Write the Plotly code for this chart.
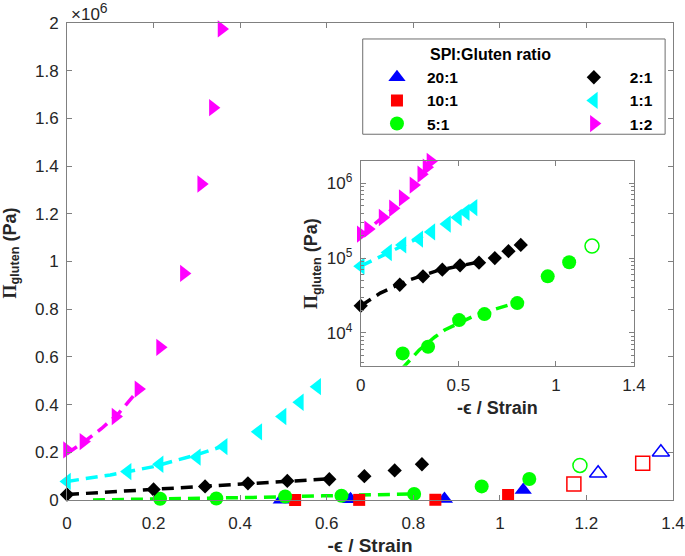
import plotly.graph_objects as go

# ---------------- data (Pa vs strain) ----------------
x_20_1 = [0.495, 0.655, 0.872, 1.054]
y_20_1 = [1500, 3000, 4000, 42000]
x_20_1_open = [1.227, 1.372]
y_20_1_open = [112000, 200000]

x_10_1 = [0.527, 0.675, 0.851, 1.019]
y_10_1 = [0, 500, 1000, 21000]
x_10_1_open = [1.171, 1.33]
y_10_1_open = [67000, 154000]

x_5_1 = [0.215, 0.345, 0.504, 0.634, 0.802, 0.958, 1.068]
y_5_1 = [5300, 6500, 14800, 17800, 25000, 57000, 88000]
x_5_1_open = [1.185]
y_5_1_open = [145000]

x_2_1 = [0, 0.2, 0.319, 0.418, 0.509, 0.606, 0.687, 0.757, 0.82]
y_2_1 = [23000, 44000, 57000, 70000, 80000, 87000, 100000, 124000, 150000]

x_1_1 = [0, 0.14, 0.214, 0.3, 0.362, 0.442, 0.498, 0.538, 0.578]
y_1_1 = [78000, 119000, 150000, 180000, 224000, 286000, 350000, 410000, 475000]

x_1_2 = [0, 0.038, 0.112, 0.165, 0.215, 0.27, 0.31, 0.337, 0.357]
y_1_2 = [210000, 245000, 350000, 465000, 640000, 950000, 1325000, 1645000, 1975000]

# fitted (dashed) curves
fit_5_1_x = [0.06, 0.22, 0.3, 0.38, 0.43, 0.59, 0.8]
fit_5_1_y = [200, 3500, 5900, 8800, 10900, 17300, 25500]
fit_2_1_x = [0, 0.1, 0.24, 0.4, 0.6]
fit_2_1_y = [23000, 34000, 50000, 69000, 88000]
fit_1_1_x = [0, 0.1, 0.2, 0.3, 0.376]
fit_1_1_y = [78000, 105000, 140000, 190000, 235000]
fit_1_2_x = [0, 0.04, 0.08, 0.12, 0.16]
fit_1_2_y = [195000, 245000, 300000, 365000, 450000]

labels = ["20:1", "10:1", "5:1", "2:1", "1:1", "1:2"]
legend_title = "SPI:Gluten ratio"
main_yticks = [0, 200000, 400000, 600000, 800000, 1000000, 1200000, 1400000, 1600000, 1800000, 2000000]
main_yticktext = ["0", "0.2", "0.4", "0.6", "0.8", "1", "1.2", "1.4", "1.6", "1.8", "2"]
inset_xticks = [0, 0.5, 1, 1.4]
inset_yticks = [1e4, 1e5, 1e6]
inset_yticktext = ["10<sup>4</sup>", "10<sup>5</sup>", "10<sup>6</sup>"]

BLUE, RED, GREEN, BLACK, CYAN, MAG = "#0000FF", "#FF0000", "#00FF00", "#000000", "#00FFFF", "#FF00FF"
FONT = "Liberation Sans, Arial, Helvetica, sans-serif"
AX = "#808080"
TXT = "#262626"

fig = go.Figure()

def fit(x, y, c, xa="x", ya="y"):
    fig.add_trace(go.Scatter(x=x, y=y, mode="lines", xaxis=xa, yaxis=ya, showlegend=False,
                             line=dict(color=c, width=3.5, dash="12px,7px"), hoverinfo="skip"))

def pts(x, y, c, sym, size, name=None, legend="legend", xa="x", ya="y", open_=False):
    fig.add_trace(go.Scatter(
        x=x, y=y, mode="markers", xaxis=xa, yaxis=ya, name=name or "",
        showlegend=name is not None, legend=legend, cliponaxis=False,
        marker=dict(color=c, symbol=sym, size=size,
                    line=dict(color=c, width=1.5 if open_ else 0))))

# main fits
fit(fit_5_1_x, fit_5_1_y, GREEN)
fit(fit_2_1_x, fit_2_1_y, BLACK)
fit(fit_1_1_x, fit_1_1_y, CYAN)
fit(fit_1_2_x, fit_1_2_y, MAG)

# main markers
pts(x_20_1, y_20_1, BLUE, "triangle-up", 15, labels[0], "legend")
pts(x_10_1, y_10_1, RED, "square", 12, labels[1], "legend")
pts(x_5_1, y_5_1, GREEN, "circle", 14, labels[2], "legend")
pts(x_2_1, y_2_1, BLACK, "diamond", 11, labels[3], "legend2")
pts(x_1_1, y_1_1, CYAN, "triangle-left", 15, labels[4], "legend2")
pts(x_1_2, y_1_2, MAG, "triangle-right", 15, labels[5], "legend2")
pts(x_20_1_open, y_20_1_open, BLUE, "triangle-up-open", 15, open_=True)
pts(x_10_1_open, y_10_1_open, RED, "square-open", 14, open_=True)
pts(x_5_1_open, y_5_1_open, GREEN, "circle-open", 14, open_=True)

# inset
fit(fit_5_1_x, fit_5_1_y, GREEN, "x2", "y2")
fit(fit_2_1_x, fit_2_1_y, BLACK, "x2", "y2")
fit(fit_1_1_x, fit_1_1_y, CYAN, "x2", "y2")
fit(fit_1_2_x, fit_1_2_y, MAG, "x2", "y2")
pts(x_5_1, y_5_1, GREEN, "circle", 14, xa="x2", ya="y2")
pts(x_2_1, y_2_1, BLACK, "diamond", 11, xa="x2", ya="y2")
pts(x_1_1, y_1_1, CYAN, "triangle-left", 15, xa="x2", ya="y2")
pts(x_1_2, y_1_2, MAG, "triangle-right", 15, xa="x2", ya="y2")
pts(x_5_1_open, y_5_1_open, GREEN, "circle-open", 14, xa="x2", ya="y2", open_=True)

axis_common = dict(showline=True, linecolor=AX, linewidth=1, mirror="ticks", ticks="inside",
                   ticklen=5, tickcolor=AX, showgrid=False, zeroline=False, automargin=False,
                   tickfont=dict(family=FONT, size=17, color=TXT))

ytitle = ('<span style="font-family:Liberation Serif, Times New Roman, serif">\u03a0</span>'
          '<sub>gluten</sub> (Pa)')

minor_vals = [m * 10 ** e for e in (3, 4, 5) for m in range(2, 10)] + [2e6]

fig.update_layout(
    width=685, height=556,
    margin=dict(l=67, r=12, t=23, b=56),
    paper_bgcolor="white", plot_bgcolor="white",
    font=dict(family=FONT, color=TXT),
    xaxis=dict(domain=[0, 1], range=[0, 1.4], dtick=0.2, tick0=0, **axis_common,
               ticklabelstandoff=8,
               title=dict(text="-\u03f5 / Strain", standoff=7,
                          font=dict(family=FONT, size=19, color=TXT, weight="bold"))),
    yaxis=dict(domain=[0, 1], range=[0, 2000000], tickvals=main_yticks, ticktext=main_yticktext,
               **axis_common, ticklabelstandoff=4),
    xaxis2=dict(domain=[0.4847, 0.9356], range=[0, 1.4], tickvals=inset_xticks,
                anchor="y2", **axis_common, ticklabelstandoff=4,
                title=dict(text="-\u03f5 / Strain", standoff=7,
                           font=dict(family=FONT, size=18, color=TXT, weight="bold"))),
    yaxis2=dict(domain=[0.2816, 0.7107], type="log", range=[3.56, 6.30],
                tickvals=inset_yticks, ticktext=inset_yticktext, anchor="x2",
                minor=dict(ticks="inside", ticklen=3, tickcolor=AX, tickvals=minor_vals),
                **axis_common, ticklabelstandoff=4),
    legend=dict(x=0.495, y=0.921, xanchor="left", yanchor="top", orientation="v",
                bgcolor="rgba(0,0,0,0)", borderwidth=0, itemwidth=50,
                font=dict(family=FONT, size=15.5, color="#000000", weight="bold")),
    legend2=dict(x=0.81, y=0.921, xanchor="left", yanchor="top", orientation="v",
                 bgcolor="rgba(0,0,0,0)", borderwidth=0, itemwidth=62,
                 font=dict(family=FONT, size=15.5, color="#000000", weight="bold")),
    shapes=[dict(type="rect", xref="paper", yref="paper", x0=0.488, x1=0.987, y0=0.7668, y1=0.9665,
                 line=dict(color="#6e6e6e", width=1), fillcolor="white", layer="below")],
    annotations=[
        dict(text=legend_title, xref="paper", yref="paper", x=0.5957, y=0.935,
             xanchor="left", yanchor="middle", showarrow=False,
             font=dict(family=FONT, size=16, color="#000000", weight="bold")),
        dict(text='\u00d710<sup><span style="font-size:14px">6</span></sup>', xref="paper", yref="paper",
             x=0.003, y=1.0, yshift=-3, xanchor="left", yanchor="bottom", showarrow=False,
             font=dict(family=FONT, size=17, color=TXT)),
        dict(text=ytitle, xref="paper", yref="paper", x=-0.0916, y=0.518, textangle=-90,
             xanchor="center", yanchor="middle", showarrow=False,
             font=dict(family=FONT, size=18, color=TXT, weight="bold")),
        dict(text=ytitle, xref="paper", yref="paper", x=0.406, y=0.4948, textangle=-90,
             xanchor="center", yanchor="middle", showarrow=False,
             font=dict(family=FONT, size=18, color=TXT, weight="bold")),
    ],
)

fig.write_html("out.html", config={"displayModeBar": False},
               post_script="document.body.style.margin='0px';")
